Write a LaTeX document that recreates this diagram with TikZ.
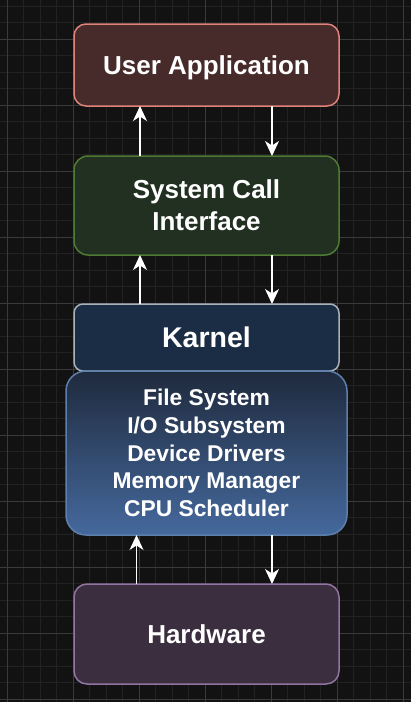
\documentclass[tikz,border=0pt]{standalone}
\usepackage{fontspec}
\setmainfont{Liberation Sans}
\usepackage{tikz}
\usetikzlibrary{arrows.meta,calc}
\definecolor{bgcol}{HTML}{121212}
\definecolor{minorcol}{HTML}{222222}
\definecolor{majorcol}{HTML}{3A3A3A}
\definecolor{uafill}{HTML}{472A2A}
\definecolor{uadraw}{HTML}{E0837A}
\definecolor{scifill}{HTML}{223021}
\definecolor{scidraw}{HTML}{4E7A34}
\definecolor{kfill}{HTML}{1B2D45}
\definecolor{kdraw}{HTML}{A8B0B8}
\definecolor{subtop}{HTML}{1F2A3D}
\definecolor{subbot}{HTML}{45699D}
\definecolor{subdraw}{HTML}{5C7FAD}
\definecolor{hwfill}{HTML}{3B2E3F}
\definecolor{hwdraw}{HTML}{9274A3}
\tikzset{arrow/.style = {draw=white, line width=1.5pt, -{Stealth[length=15pt,width=14pt,inset=4.5pt]}}}
\tikzset{layer/.style = {rectangle, rounded corners=12pt, line width=1.5pt, minimum width=265pt,
    inner sep=0pt, outer sep=0pt, align=center, text=white,
    font=\bfseries\fontsize{26}{32}\selectfont}}

\begin{document}
\begin{tikzpicture}[x=1pt,y=-1pt]
        \fill[bgcol] (0,0) rectangle (411,702);
        \useasboundingbox (0,0) rectangle (411,702);
        % grid
        \foreach \k in {-1,...,24}
            \draw[minorcol, line width=0.8pt] ({7+16.5*\k},0) -- ({7+16.5*\k},702);
        \foreach \k in {-2,...,40}
            \draw[minorcol, line width=0.8pt] (0,{39+16.5*\k}) -- (411,{39+16.5*\k});
        \foreach \x in {7,73,...,403}
            \draw[majorcol, line width=0.8pt] (\x,0) -- (\x,702);
        \foreach \y in {39,105,...,699}
            \draw[majorcol, line width=0.8pt] (0,\y) -- (411,\y);

        \node[layer, fill=uafill, draw=uadraw, minimum height=82pt, text depth=0pt] (ua) at (206.5,65) {User Application};
        \node[layer, fill=scifill, draw=scidraw, minimum height=99pt, rounded corners=14pt] (sci) at (206.5,205.5) {System Call\\Interface};
        \node[layer, fill=kfill, draw=kdraw, minimum height=67pt, rounded corners=9pt,
              font=\bfseries\fontsize{28.5}{34}\selectfont] (karnel) at (206.5,337.5) {Karnel};
        \node[layer, top color=subtop, bottom color=subbot, draw=subdraw, minimum width=281pt,
              minimum height=164pt, rounded corners=20pt,
              font=\bfseries\fontsize{22.8}{27.8}\selectfont] (sub) at (206.5,453)
              {File System\\I/O Subsystem\\Device Drivers\\Memory Manager\\CPU Scheduler};
        \node[layer, fill=hwfill, draw=hwdraw, minimum height=100pt, rounded corners=13pt] (hw) at (206.5,634) {Hardware};

        \coordinate (upA) at (140,0);
        \coordinate (upB) at (136.5,0);
        \coordinate (down) at (272,0);
        \draw[arrow] (sci.north -| upA) -- (ua.south -| upA);
        \draw[arrow] (ua.south -| down) -- (sci.north -| down);
        \draw[arrow] (karnel.north -| upA) -- (sci.south -| upA);
        \draw[arrow] (sci.south -| down) -- (karnel.north -| down);
        \draw[arrow] (hw.north -| upB) -- (sub.south -| upB);
        \draw[arrow] (sub.south -| down) -- (hw.north -| down);
\end{tikzpicture}
\end{document}
